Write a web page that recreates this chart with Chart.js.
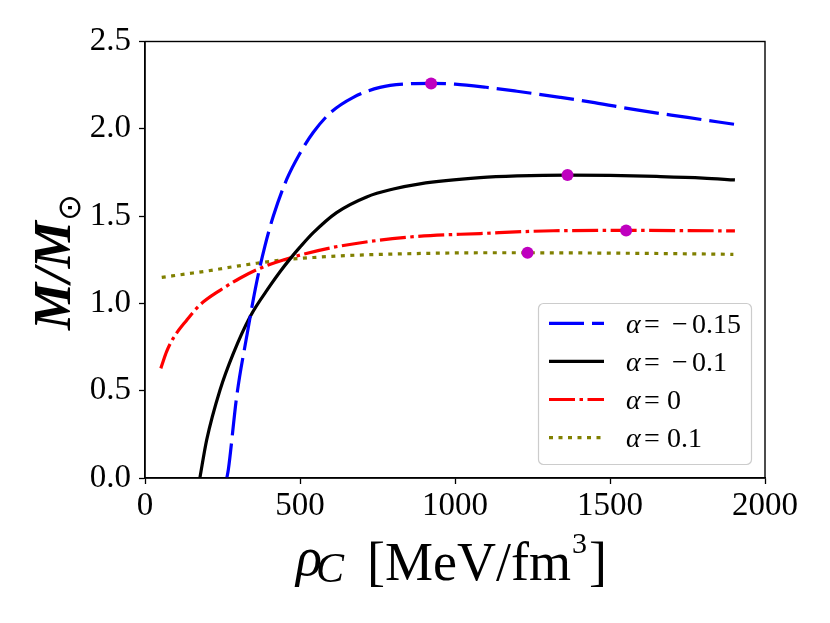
<!DOCTYPE html>
<html><head><meta charset="utf-8">
<script src="https://cdn.jsdelivr.net/npm/chart.js@4.4.0/dist/chart.umd.min.js"></script>
<style>html,body{margin:0;padding:0;background:#fff;overflow:hidden}</style>
</head><body>
<canvas id="c" width="830" height="623" style="width:830px;height:623px;display:block"></canvas>
<script>
// ---- data ----
const rhoA015 = [264, 269, 296, 328, 360, 387, 414, 457, 500, 543, 597, 672, 758, 844, 923, 1000, 1100, 1200, 1339, 1450, 1586, 1750, 1900];
const mA015   = [0.0, 0.05, 0.47, 0.81, 1.12, 1.33, 1.50, 1.71, 1.86, 1.98, 2.09, 2.18, 2.237, 2.257, 2.26, 2.256, 2.238, 2.215, 2.18, 2.15, 2.108, 2.065, 2.026];
const rhoA01n = [177, 199, 242, 285, 339, 403, 435, 468, 500, 543, 618, 715, 801, 887, 1081, 1200, 1363, 1500, 1650, 1800, 1903];
const mA01n   = [0.0, 0.218, 0.504, 0.714, 0.924, 1.10, 1.18, 1.255, 1.322, 1.405, 1.52, 1.61, 1.655, 1.685, 1.72, 1.73, 1.735, 1.733, 1.727, 1.718, 1.707];
const rhoA0   = [51, 70, 91, 135, 177, 242, 306, 371, 446, 607, 866, 1081, 1317, 1552, 1750, 1903];
const mA0     = [0.628, 0.725, 0.80, 0.905, 0.991, 1.075, 1.144, 1.201, 1.249, 1.321, 1.382, 1.40, 1.416, 1.418, 1.417, 1.415];
const rhoA01  = [54, 130, 199, 274, 360, 450, 543, 680, 812, 1081, 1234, 1500, 1700, 1898];
const mA01    = [1.149, 1.168, 1.185, 1.207, 1.23, 1.25, 1.263, 1.276, 1.283, 1.29, 1.29, 1.288, 1.285, 1.281];
const rhoMax  = [923, 1363, 1552, 1234];
const mMax    = [2.26, 1.735, 1.418, 1.29];
const alphaLabels = ['\u22120.15', '\u22120.1', '0', '0.1'];
const xTicks = [0, 500, 1000, 1500, 2000];
const yTicks = [0.0, 0.5, 1.0, 1.5, 2.0, 2.5];

const pts = (xs, ys) => xs.map((x, i) => ({x: x, y: ys[i]}));
const SERIF = "'Liberation Serif', 'Times New Roman', serif";

function lineDs(label, xs, ys, color, dash) {
  return {
    type: 'line', label: label, data: pts(xs, ys), borderColor: color, backgroundColor: color,
    borderWidth: 3.2, borderDash: dash, borderCapStyle: 'butt', borderJoinStyle: 'round',
    pointRadius: 0, pointHoverRadius: 0, fill: false, cubicInterpolationMode: 'monotone', order: 1
  };
}

const datasets = [
  {type: 'scatter', label: 'max', data: pts(rhoMax, mMax), backgroundColor: '#bf00bf', borderWidth: 0,
   pointRadius: 6, pointHoverRadius: 6, showLine: false, order: 0},
  lineDs(alphaLabels[0], rhoA015, mA015, '#0000ff', [35, 8]),
  lineDs(alphaLabels[1], rhoA01n, mA01n, '#000000', []),
  lineDs(alphaLabels[2], rhoA0, mA0, '#ff0000', [26, 4.5, 3.5, 4.5]),
  lineDs(alphaLabels[3], rhoA01, mA01, '#808000', [4, 5.5])
];

const framePlugin = {
  id: 'frame',
  afterDatasetsDraw(chart) {
    const a = chart.chartArea, ctx = chart.ctx;
    ctx.save();
    ctx.strokeStyle = '#000'; ctx.lineWidth = 1.4; ctx.setLineDash([]);
    ctx.strokeRect(a.left, a.top, a.right - a.left, a.bottom - a.top);
    ctx.restore();
  }
};

const legendPlugin = {
  id: 'mylegend',
  afterDraw(chart) {
    const ctx = chart.ctx;
    const bx = 538.5, by = 303.5, bw = 213, bh = 161, r = 5;
    ctx.save();
    ctx.beginPath();
    ctx.moveTo(bx + r, by); ctx.lineTo(bx + bw - r, by); ctx.arcTo(bx + bw, by, bx + bw, by + r, r);
    ctx.lineTo(bx + bw, by + bh - r); ctx.arcTo(bx + bw, by + bh, bx + bw - r, by + bh, r);
    ctx.lineTo(bx + r, by + bh); ctx.arcTo(bx, by + bh, bx, by + bh - r, r);
    ctx.lineTo(bx, by + r); ctx.arcTo(bx, by, bx + r, by, r); ctx.closePath();
    ctx.fillStyle = 'rgba(255,255,255,0.8)'; ctx.fill();
    ctx.strokeStyle = '#cccccc'; ctx.lineWidth = 1.2; ctx.stroke();
    const lines = chart.data.datasets.filter(d => d.type === 'line');
    lines.forEach((d, i) => {
      const y = 323.3 + i * 38.1;
      ctx.beginPath();
      ctx.setLineDash(d.borderDash); ctx.lineCap = 'butt';
      ctx.strokeStyle = d.borderColor; ctx.lineWidth = d.borderWidth;
      ctx.moveTo(549, y); ctx.lineTo(604, y); ctx.stroke();
      ctx.setLineDash([]);
      ctx.fillStyle = '#000'; ctx.textBaseline = 'alphabetic'; ctx.textAlign = 'left';
      ctx.font = 'italic 28px ' + SERIF;
      ctx.fillText('\u03b1', 626, y + 9.5);
      ctx.font = '28px ' + SERIF;
      ctx.fillText('=', 644, y + 9.5);
      const lab = d.label;
      if (lab.charAt(0) === '\u2212') {
        ctx.fillText('\u2212', 672, y + 9.5);
        ctx.fillText(lab.slice(1), 692, y + 9.5);
      } else {
        ctx.fillText(lab, 667, y + 9.5);
      }
    });
    ctx.restore();
  }
};

const titlePlugin = {
  id: 'axtitles',
  afterDraw(chart) {
    const ctx = chart.ctx;
    ctx.save();
    ctx.fillStyle = '#000'; ctx.textAlign = 'left'; ctx.textBaseline = 'alphabetic';
    // x title
    ctx.font = 'italic 54px ' + SERIF;
    ctx.fillText('\u03c1', 296, 575);
    ctx.font = 'italic 42px ' + SERIF;
    ctx.fillText('C', 316, 582);
    ctx.font = '54px ' + SERIF;
    let x = 367;
    ctx.fillText('[MeV/fm', x, 580);
    x += ctx.measureText('[MeV/fm').width + 1;
    ctx.font = '30px ' + SERIF;
    ctx.fillText('3', x, 553);
    x += ctx.measureText('3').width + 2;
    ctx.font = '54px ' + SERIF;
    ctx.fillText(']', x, 580);
    ctx.restore();
    // y title (rotated)
    ctx.save();
    ctx.fillStyle = '#000'; ctx.textAlign = 'left'; ctx.textBaseline = 'alphabetic';
    ctx.translate(70, 330);
    ctx.rotate(-Math.PI / 2);
    ctx.font = 'italic bold 53px ' + SERIF;
    ctx.fillText('M/M', 0, 0);
    const w = ctx.measureText('M/M').width;
    ctx.font = "32px 'DejaVu Sans'";
    ctx.fillText('\u2299', w, 10);
    ctx.restore();
  }
};

new Chart(document.getElementById('c'), {
  data: {datasets: datasets},
  options: {
    responsive: false, animation: false, devicePixelRatio: 1,
    layout: {padding: {top: 41.5, right: 65, left: 0, bottom: 0}},
    plugins: {legend: {display: false}, tooltip: {enabled: false}},
    scales: {
      x: {
        type: 'linear', min: 0, max: 2000,
        afterBuildTicks: s => { s.ticks = xTicks.map(v => ({value: v})); },
        afterFit: s => { s.height = 145; },
        ticks: {font: {family: SERIF, size: 33}, color: '#000', padding: 3, maxRotation: 0, autoSkip: false,
                callback: v => String(v)},
        grid: {drawOnChartArea: false, drawTicks: true, tickLength: 6, tickColor: '#000', tickWidth: 1.3},
        border: {display: true, color: '#000', width: 1.4}
      },
      y: {
        type: 'linear', min: 0, max: 2.5,
        afterBuildTicks: s => { s.ticks = yTicks.map(v => ({value: v})); },
        afterFit: s => { s.width = 145; },
        ticks: {font: {family: SERIF, size: 33}, color: '#000', padding: 8, autoSkip: false,
                callback: v => v.toFixed(1)},
        grid: {drawOnChartArea: false, drawTicks: true, tickLength: 6, tickColor: '#000', tickWidth: 1.3},
        border: {display: true, color: '#000', width: 1.4}
      }
    }
  },
  plugins: [framePlugin, legendPlugin, titlePlugin]
});
</script>
</body></html>
